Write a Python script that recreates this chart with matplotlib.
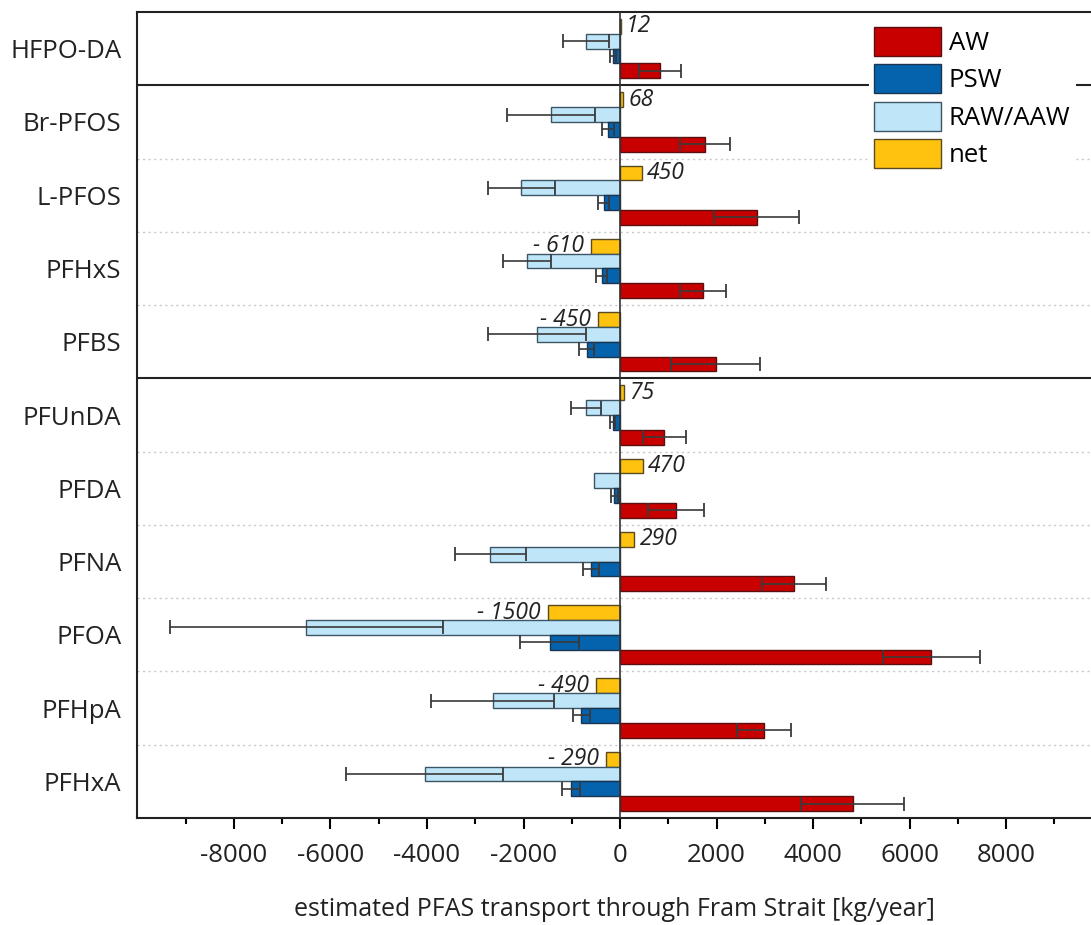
import matplotlib
matplotlib.use('Agg')
import matplotlib.pyplot as plt
import numpy as np

plt.rcParams['font.family'] = ['Open Sans', 'DejaVu Sans']
plt.rcParams['axes.unicode_minus'] = False

# Werte von oben nach unten (kg/year)
compounds = ['HFPO-DA', 'Br-PFOS', 'L-PFOS', 'PFHxS', 'PFBS',
             'PFUnDA', 'PFDA', 'PFNA', 'PFOA', 'PFHpA', 'PFHxA']
net = [12, 68, 450, -610, -450, 75, 470, 290, -1500, -490, -290]
raw = [-710, -1430, -2045, -1935, -1725, -700, -540, -2690, -6500, -2640, -4050]
raw_err = [480, 910, 695, 500, 1010, 310, 0, 740, 2830, 1270, 1620]
psw = [-140, -240, -340, -380, -690, -150, -120, -600, -1460, -800, -1020]
psw_err = [60, 125, 110, 110, 160, 55, 70, 160, 620, 180, 190]
aw = [830, 1760, 2830, 1720, 1980, 920, 1160, 3600, 6450, 2990, 4820]
aw_err = [440, 510, 880, 480, 920, 440, 580, 660, 1010, 560, 1060]

colors = {'AW': '#c80000', 'PSW': '#0562ad', 'RAW/AAW': '#bfe6f8', 'net': '#ffc20e'}
edges = {'AW': '#5a1010', 'PSW': '#1b3550', 'RAW/AAW': '#3c5666', 'net': '#5a4a20'}

y = np.arange(len(compounds))
h = 0.202

fig = plt.figure(figsize=(10.91, 9.25), dpi=100)
ax = fig.add_axes([0.126, 0.1157, 0.874, 0.8713])

series = [('net', net, None, -0.303),
          ('RAW/AAW', raw, raw_err, -0.101),
          ('PSW', psw, psw_err, 0.101),
          ('AW', aw, aw_err, 0.303)]

handles = {}
for name, vals, errs, off in series:
    b = ax.barh(y + off, vals, height=h, color=colors[name], edgecolor=edges[name],
                linewidth=1.0, zorder=3, label=name)
    handles[name] = b
    if errs is not None:
        vals = np.array(vals, dtype=float)
        errs = np.array(errs, dtype=float)
        m = errs > 0
        ax.errorbar(vals[m], (y + off)[m], xerr=errs[m], fmt='none', ecolor='#3a3a3a',
                    elinewidth=1.2, capsize=4.7, capthick=1.3, zorder=4)

# Beschriftung der net-Werte
for yi, v in zip(y, net):
    if v >= 0:
        ax.annotate(str(v), (v, yi - 0.303), xytext=(4, 0), textcoords='offset points',
                    ha='left', va='center', fontsize=16.5, style='italic', color='#222222')
    else:
        ax.annotate('- ' + str(abs(v)), (v, yi - 0.303), xytext=(-5, 0), textcoords='offset points',
                    ha='right', va='center', fontsize=16.5, style='italic', color='#222222')

# Trennlinien
for yl in np.arange(0.5, len(compounds) - 1, 1.0):
    if yl in (0.5, 4.5):
        ax.axhline(yl, color='#222222', lw=1.5, zorder=2)
    else:
        ax.axhline(yl, color='#c8c8c8', lw=1.0, ls=(0, (1.5, 2.5)), zorder=1)
ax.axvline(0, color='#333333', lw=1.2, zorder=5)

ax.set_ylim(len(compounds) - 0.5, -0.5)
ax.set_xlim(-10000, 9760)
ax.set_yticks(y)
ax.set_yticklabels(compounds, fontsize=18.5, color='#222222')
ax.tick_params(axis='y', left=False, pad=8)

ax.set_xticks(np.arange(-8000, 8001, 2000))
ax.set_xticks(np.arange(-9000, 9001, 1000), minor=True)
ax.tick_params(axis='x', which='major', direction='out', length=8, width=1.5,
               labelsize=18.5, pad=10, labelcolor='#222222')
ax.tick_params(axis='x', which='minor', direction='out', length=4, width=1.5)
ax.set_xlabel('estimated PFAS transport through Fram Strait [kg/year]', fontsize=18,
              labelpad=21, color='#222222')

for s in ['left', 'top', 'bottom']:
    ax.spines[s].set_linewidth(1.5)
    ax.spines[s].set_color('#222222')
ax.spines['right'].set_visible(False)

order = ['AW', 'PSW', 'RAW/AAW', 'net']
leg = ax.legend([handles[k] for k in order], order, loc='upper left',
                bbox_to_anchor=(0.785, 0.99), bbox_transform=fig.transFigure,
                fontsize=18.5, handlelength=2.6, handleheight=1.35, labelspacing=0.32,
                handletextpad=0.3, borderpad=0.2, frameon=True, fancybox=False)
leg.get_frame().set_edgecolor('none')
leg.get_frame().set_facecolor('white')
leg.get_frame().set_alpha(1)

fig.savefig('out.png', dpi=100)
